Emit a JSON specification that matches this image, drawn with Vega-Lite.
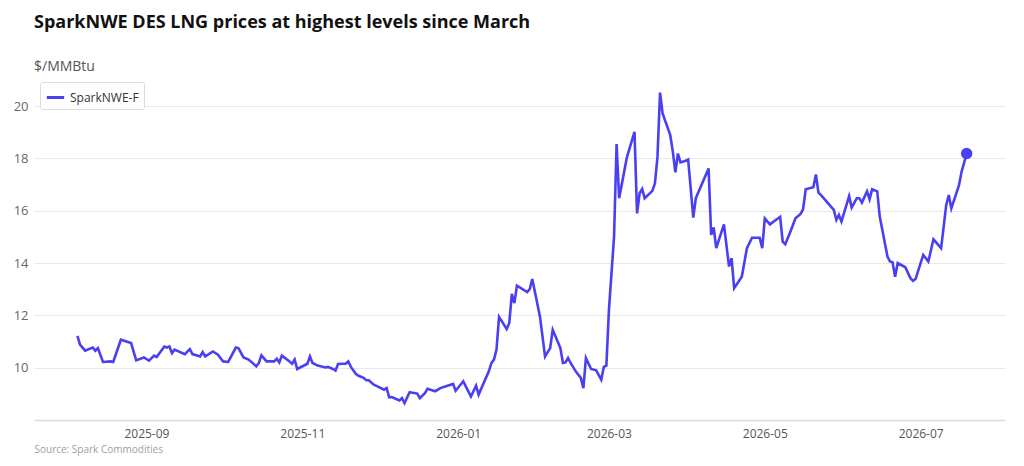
{
  "$schema": "https://vega.github.io/schema/vega-lite/v6.json",
  "autosize": {"type": "none"},
  "width": 971,
  "height": 340,
  "padding": {"left": 34, "top": 80, "right": 19, "bottom": 46},
  "background": "white",
  "title": {
    "text": "SparkNWE DES LNG prices at highest levels since March",
    "subtitle": "$/MMBtu",
    "anchor": "start",
    "frame": "group",
    "font": "Open Sans",
    "fontSize": 18,
    "fontWeight": "bold",
    "color": "#111111",
    "subtitleFont": "Open Sans",
    "subtitleFontSize": 14,
    "subtitleColor": "#555555",
    "subtitlePadding": 28,
    "offset": 6
  },
  "data": {
    "values": [
      {"date": "2025-08-05", "price": 11.22},
      {"date": "2025-08-06", "price": 10.88},
      {"date": "2025-08-08", "price": 10.65},
      {"date": "2025-08-11", "price": 10.77},
      {"date": "2025-08-12", "price": 10.65},
      {"date": "2025-08-13", "price": 10.75},
      {"date": "2025-08-15", "price": 10.22},
      {"date": "2025-08-18", "price": 10.24},
      {"date": "2025-08-19", "price": 10.22},
      {"date": "2025-08-22", "price": 11.07},
      {"date": "2025-08-26", "price": 10.94},
      {"date": "2025-08-28", "price": 10.28},
      {"date": "2025-08-31", "price": 10.39},
      {"date": "2025-09-02", "price": 10.27},
      {"date": "2025-09-04", "price": 10.46},
      {"date": "2025-09-05", "price": 10.41},
      {"date": "2025-09-08", "price": 10.81},
      {"date": "2025-09-09", "price": 10.77},
      {"date": "2025-09-10", "price": 10.81},
      {"date": "2025-09-11", "price": 10.56},
      {"date": "2025-09-12", "price": 10.69},
      {"date": "2025-09-16", "price": 10.52},
      {"date": "2025-09-18", "price": 10.71},
      {"date": "2025-09-19", "price": 10.52},
      {"date": "2025-09-22", "price": 10.43},
      {"date": "2025-09-23", "price": 10.60},
      {"date": "2025-09-24", "price": 10.43},
      {"date": "2025-09-27", "price": 10.62},
      {"date": "2025-09-29", "price": 10.50},
      {"date": "2025-10-01", "price": 10.24},
      {"date": "2025-10-03", "price": 10.22},
      {"date": "2025-10-06", "price": 10.77},
      {"date": "2025-10-07", "price": 10.75},
      {"date": "2025-10-09", "price": 10.39},
      {"date": "2025-10-11", "price": 10.31},
      {"date": "2025-10-14", "price": 10.05},
      {"date": "2025-10-15", "price": 10.18},
      {"date": "2025-10-16", "price": 10.47},
      {"date": "2025-10-18", "price": 10.24},
      {"date": "2025-10-21", "price": 10.24},
      {"date": "2025-10-22", "price": 10.34},
      {"date": "2025-10-23", "price": 10.20},
      {"date": "2025-10-24", "price": 10.46},
      {"date": "2025-10-27", "price": 10.24},
      {"date": "2025-10-28", "price": 10.15},
      {"date": "2025-10-29", "price": 10.31},
      {"date": "2025-10-30", "price": 9.95},
      {"date": "2025-11-03", "price": 10.15},
      {"date": "2025-11-04", "price": 10.43},
      {"date": "2025-11-05", "price": 10.18},
      {"date": "2025-11-07", "price": 10.08},
      {"date": "2025-11-10", "price": 10.01},
      {"date": "2025-11-11", "price": 10.03},
      {"date": "2025-11-13", "price": 9.95},
      {"date": "2025-11-14", "price": 9.89},
      {"date": "2025-11-15", "price": 10.14},
      {"date": "2025-11-17", "price": 10.15},
      {"date": "2025-11-18", "price": 10.15},
      {"date": "2025-11-19", "price": 10.24},
      {"date": "2025-11-20", "price": 10.03},
      {"date": "2025-11-22", "price": 9.76},
      {"date": "2025-11-23", "price": 9.69},
      {"date": "2025-11-25", "price": 9.61},
      {"date": "2025-11-26", "price": 9.52},
      {"date": "2025-11-27", "price": 9.52},
      {"date": "2025-11-29", "price": 9.35},
      {"date": "2025-12-01", "price": 9.26},
      {"date": "2025-12-03", "price": 9.16},
      {"date": "2025-12-04", "price": 9.22},
      {"date": "2025-12-05", "price": 8.87},
      {"date": "2025-12-06", "price": 8.88},
      {"date": "2025-12-09", "price": 8.75},
      {"date": "2025-12-10", "price": 8.84},
      {"date": "2025-12-11", "price": 8.65},
      {"date": "2025-12-13", "price": 9.06},
      {"date": "2025-12-16", "price": 9.01},
      {"date": "2025-12-17", "price": 8.84},
      {"date": "2025-12-19", "price": 9.03},
      {"date": "2025-12-20", "price": 9.19},
      {"date": "2025-12-23", "price": 9.10},
      {"date": "2025-12-25", "price": 9.22},
      {"date": "2025-12-30", "price": 9.38},
      {"date": "2025-12-31", "price": 9.12},
      {"date": "2026-01-03", "price": 9.48},
      {"date": "2026-01-06", "price": 8.90},
      {"date": "2026-01-08", "price": 9.31},
      {"date": "2026-01-09", "price": 8.97},
      {"date": "2026-01-13", "price": 9.86},
      {"date": "2026-01-14", "price": 10.18},
      {"date": "2026-01-15", "price": 10.31},
      {"date": "2026-01-16", "price": 10.69},
      {"date": "2026-01-17", "price": 11.94},
      {"date": "2026-01-20", "price": 11.48},
      {"date": "2026-01-21", "price": 11.71},
      {"date": "2026-01-22", "price": 12.82},
      {"date": "2026-01-23", "price": 12.47},
      {"date": "2026-01-24", "price": 13.14},
      {"date": "2026-01-28", "price": 12.89},
      {"date": "2026-01-29", "price": 13.00},
      {"date": "2026-01-30", "price": 13.39},
      {"date": "2026-02-02", "price": 11.96},
      {"date": "2026-02-04", "price": 10.43},
      {"date": "2026-02-06", "price": 10.75},
      {"date": "2026-02-07", "price": 11.45},
      {"date": "2026-02-10", "price": 10.75},
      {"date": "2026-02-11", "price": 10.18},
      {"date": "2026-02-12", "price": 10.20},
      {"date": "2026-02-13", "price": 10.37},
      {"date": "2026-02-14", "price": 10.18},
      {"date": "2026-02-16", "price": 9.86},
      {"date": "2026-02-18", "price": 9.61},
      {"date": "2026-02-19", "price": 9.22},
      {"date": "2026-02-20", "price": 10.37},
      {"date": "2026-02-22", "price": 9.95},
      {"date": "2026-02-24", "price": 9.90},
      {"date": "2026-02-26", "price": 9.54},
      {"date": "2026-02-27", "price": 10.03},
      {"date": "2026-02-28", "price": 10.08},
      {"date": "2026-03-01", "price": 12.21},
      {"date": "2026-03-03", "price": 15.00},
      {"date": "2026-03-04", "price": 18.55},
      {"date": "2026-03-05", "price": 16.48},
      {"date": "2026-03-08", "price": 18.03},
      {"date": "2026-03-11", "price": 19.02},
      {"date": "2026-03-12", "price": 15.90},
      {"date": "2026-03-13", "price": 16.67},
      {"date": "2026-03-14", "price": 16.83},
      {"date": "2026-03-15", "price": 16.48},
      {"date": "2026-03-18", "price": 16.76},
      {"date": "2026-03-19", "price": 17.05},
      {"date": "2026-03-20", "price": 18.06},
      {"date": "2026-03-21", "price": 20.52},
      {"date": "2026-03-22", "price": 19.72},
      {"date": "2026-03-25", "price": 18.89},
      {"date": "2026-03-26", "price": 18.26},
      {"date": "2026-03-27", "price": 17.47},
      {"date": "2026-03-28", "price": 18.19},
      {"date": "2026-03-29", "price": 17.85},
      {"date": "2026-03-31", "price": 17.91},
      {"date": "2026-04-01", "price": 17.96},
      {"date": "2026-04-03", "price": 15.74},
      {"date": "2026-04-04", "price": 16.48},
      {"date": "2026-04-09", "price": 17.62},
      {"date": "2026-04-10", "price": 15.08},
      {"date": "2026-04-11", "price": 15.36},
      {"date": "2026-04-12", "price": 14.57},
      {"date": "2026-04-15", "price": 15.48},
      {"date": "2026-04-17", "price": 13.87},
      {"date": "2026-04-18", "price": 14.19},
      {"date": "2026-04-19", "price": 13.04},
      {"date": "2026-04-22", "price": 13.48},
      {"date": "2026-04-24", "price": 14.57},
      {"date": "2026-04-26", "price": 14.97},
      {"date": "2026-04-29", "price": 14.97},
      {"date": "2026-04-30", "price": 14.57},
      {"date": "2026-05-01", "price": 15.71},
      {"date": "2026-05-03", "price": 15.48},
      {"date": "2026-05-07", "price": 15.77},
      {"date": "2026-05-08", "price": 14.82},
      {"date": "2026-05-09", "price": 14.72},
      {"date": "2026-05-11", "price": 15.20},
      {"date": "2026-05-13", "price": 15.71},
      {"date": "2026-05-15", "price": 15.88},
      {"date": "2026-05-16", "price": 16.06},
      {"date": "2026-05-17", "price": 16.82},
      {"date": "2026-05-20", "price": 16.90},
      {"date": "2026-05-21", "price": 17.39},
      {"date": "2026-05-22", "price": 16.69},
      {"date": "2026-05-23", "price": 16.60},
      {"date": "2026-05-28", "price": 16.03},
      {"date": "2026-05-29", "price": 15.65},
      {"date": "2026-05-30", "price": 15.84},
      {"date": "2026-05-31", "price": 15.59},
      {"date": "2026-06-03", "price": 16.56},
      {"date": "2026-06-04", "price": 16.12},
      {"date": "2026-06-06", "price": 16.48},
      {"date": "2026-06-07", "price": 16.48},
      {"date": "2026-06-08", "price": 16.31},
      {"date": "2026-06-10", "price": 16.74},
      {"date": "2026-06-11", "price": 16.44},
      {"date": "2026-06-12", "price": 16.82},
      {"date": "2026-06-14", "price": 16.74},
      {"date": "2026-06-15", "price": 15.77},
      {"date": "2026-06-18", "price": 14.25},
      {"date": "2026-06-19", "price": 14.06},
      {"date": "2026-06-20", "price": 14.03},
      {"date": "2026-06-21", "price": 13.48},
      {"date": "2026-06-22", "price": 14.00},
      {"date": "2026-06-25", "price": 13.84},
      {"date": "2026-06-27", "price": 13.42},
      {"date": "2026-06-28", "price": 13.32},
      {"date": "2026-06-29", "price": 13.39},
      {"date": "2026-07-02", "price": 14.31},
      {"date": "2026-07-04", "price": 14.06},
      {"date": "2026-07-06", "price": 14.91},
      {"date": "2026-07-09", "price": 14.57},
      {"date": "2026-07-11", "price": 16.22},
      {"date": "2026-07-12", "price": 16.60},
      {"date": "2026-07-13", "price": 16.09},
      {"date": "2026-07-16", "price": 16.98},
      {"date": "2026-07-17", "price": 17.49},
      {"date": "2026-07-19", "price": 18.19}
    ]
  },
  "encoding": {
    "x": {
      "field": "date",
      "type": "temporal",
      "scale": {"type": "utc", "domain": ["2025-07-19", "2026-08-03"]},
      "axis": {
        "title": "Source: Spark Commodities",
        "titleAnchor": "start",
        "titleAlign": "left",
        "titleFont": "Open Sans",
        "titleFontSize": 10,
        "titleFontWeight": "normal",
        "titleColor": "#a0a0a0",
        "titlePadding": 5,
        "labelExpr": "utcFormat(datum.value, '%Y-%m')",
        "tickCount": {"interval": "month", "step": 2},
        "grid": false,
        "ticks": false,
        "domainColor": "#dcdcdc",
        "domainWidth": 1.5,
        "labelFont": "Open Sans",
        "labelFontSize": 12,
        "labelColor": "#555555",
        "labelPadding": 8
      }
    },
    "y": {
      "field": "price",
      "type": "quantitative",
      "scale": {"domain": [8, 21], "nice": false, "zero": false},
      "axis": {
        "title": null,
        "values": [10, 12, 14, 16, 18, 20],
        "grid": true,
        "gridColor": "#e8e8e8",
        "gridWidth": 1,
        "domain": false,
        "ticks": false,
        "labelFont": "Open Sans",
        "labelFontSize": 13,
        "labelColor": "#666666",
        "labelPadding": 6
      }
    }
  },
  "layer": [
    {
      "mark": {"type": "line", "strokeWidth": 2.6, "interpolate": "linear"},
      "encoding": {
        "color": {
          "datum": "SparkNWE-F",
          "scale": {"range": ["#4b3ff2"]},
          "legend": {
            "title": null,
            "orient": "none",
            "legendX": 6,
            "legendY": 2,
            "symbolType": "stroke",
            "symbolStrokeWidth": 3,
            "symbolSize": 300,
            "labelFont": "Open Sans",
            "labelFontSize": 12,
            "labelColor": "#333333",
            "strokeColor": "#dddddd",
            "fillColor": "white",
            "padding": 5,
            "cornerRadius": 2
          }
        }
      }
    },
    {
      "transform": [{"filter": "utcyear(datum.date) == 2026 && utcmonth(datum.date) == 6 && utcdate(datum.date) == 19"}],
      "mark": {"type": "point", "filled": true, "size": 130, "color": "#4b3ff2", "opacity": 1}
    }
  ],
  "config": {"view": {"stroke": null}}
}
